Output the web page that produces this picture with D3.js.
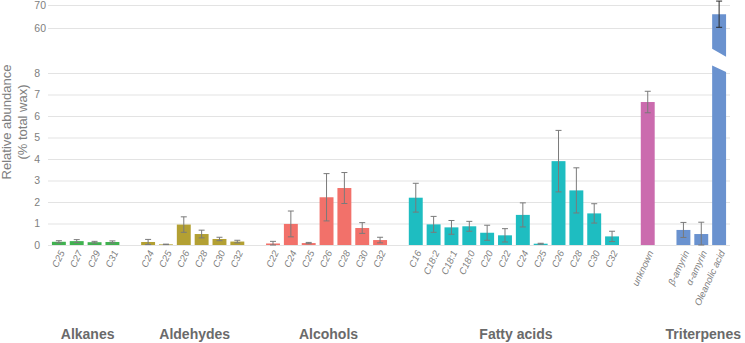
<!DOCTYPE html>
<html>
<head>
<meta charset="utf-8">
<script src="https://cdn.jsdelivr.net/npm/d3@7"></script>
<style>
  body { margin: 0; background: #fff; }
  svg { display: block; font-family: "Liberation Sans", Arial, sans-serif; }
</style>
</head>
<body>
<svg id="chart" width="745" height="343"></svg>
<script>
// values (mean, error)
var alkaneNames = ["C25", "C27", "C29", "C31"],
    alkaneMeans = [0.15, 0.18, 0.13, 0.14],
    alkaneErrs = [0.05, 0.07, 0.04, 0.05];

var aldehydeNames = ["C24", "C25", "C26", "C28", "C30", "C32"],
    aldehydeMeans = [0.14, 0.03, 0.95, 0.51, 0.28, 0.16],
    aldehydeErrs = [0.12, 0.01, 0.36, 0.18, 0.08, 0.06];

var alcoholNames = ["C22", "C24", "C25", "C26", "C28", "C30", "C32"],
    alcoholMeans = [0.07, 0.98, 0.09, 2.22, 2.65, 0.79, 0.23],
    alcoholErrs = [0.1, 0.6, 0.03, 1.1, 0.72, 0.25, 0.13];

var fattyNames = ["C16", "C18:2", "C18:1", "C18:0", "C20", "C22", "C24", "C25", "C26", "C28", "C30", "C32"],
    fattyMeans = [2.2, 0.96, 0.82, 0.87, 0.57, 0.45, 1.4, 0.06, 3.9, 2.54, 1.47, 0.4],
    fattyErrs = [0.67, 0.37, 0.32, 0.23, 0.35, 0.31, 0.56, 0.02, 1.43, 1.05, 0.45, 0.24];

var unknownNames = ["unknown"],
    unknownMeans = [6.65],
    unknownErrs = [0.5];

var terpNames = ["β-amyrin", "α-amyrin", "Oleanolic acid"],
    terpMeans = [0.7, 0.51, 66],
    terpErrs = [0.35, 0.55, 5.7];

var lowTicks = [0, 1, 2, 3, 4, 5, 6, 7, 8],
    highTicks = [60, 70];

// where the broken bar is cut (left edge, right edge)
var breakLow = [8.35, 8.05],
    breakHigh = [51, 47.5];

var GRID_COLOR = "#e3e3e3",
    TEXT_COLOR = "#808080",
    ERR_COLOR = "#7a7a7a";

var groups = [
    {label: "Alkanes", color: "#3fb24f", names: alkaneNames, means: alkaneMeans, errs: alkaneErrs},
    {label: "Aldehydes", color: "#b3a033", names: aldehydeNames, means: aldehydeMeans, errs: aldehydeErrs},
    {label: "Alcohols", color: "#f2716a", names: alcoholNames, means: alcoholMeans, errs: alcoholErrs},
    {label: "Fatty acids", color: "#1ebdc1", names: fattyNames, means: fattyMeans, errs: fattyErrs},
    {label: "", color: "#cb6bae", names: unknownNames, means: unknownMeans, errs: unknownErrs},
    {label: "Triterpenes", color: "#6a92cf", names: terpNames, means: terpMeans, errs: terpErrs}
];

// flatten into slots, with one empty slot between groups
var slots = [], bars = [];
groups.forEach(function (g, gi) {
    if (gi > 0) slots.push("gap" + gi);
    g.names.forEach(function (n, i) {
        var key = gi + "_" + n;
        slots.push(key);
        bars.push({key: key, name: n, mean: g.means[i], err: g.errs[i], color: g.color, group: gi});
    });
});

var svg = d3.select("#chart");

var x = d3.scaleBand().domain(slots).range([48, 730]).padding(0.22);
var yLow = d3.scaleLinear().domain([0, 8]).range([245, 73]);
var yHigh = d3.scaleLinear().domain([60, 70]).range([28, 5]);

// gridlines + tick labels
var gridW = 730 - 48;
svg.append("g")
    .attr("transform", "translate(48,0)")
    .call(d3.axisLeft(yLow).tickValues(lowTicks).tickSize(-gridW).tickPadding(8))
    .call(function (g) {
        g.select(".domain").remove();
        g.selectAll("line").attr("stroke", GRID_COLOR);
        g.selectAll("text").attr("fill", TEXT_COLOR).style("font-size", "10.5px");
    });

svg.append("g")
    .attr("transform", "translate(48,0)")
    .call(d3.axisLeft(yHigh).tickValues(highTicks).tickSize(-gridW).tickPadding(2))
    .call(function (g) {
        g.select(".domain").remove();
        g.selectAll("line").attr("stroke", GRID_COLOR);
        g.selectAll("text").attr("fill", TEXT_COLOR).style("font-size", "10.5px");
    });

var normal = bars.filter(function (d) { return d.mean <= 8; }),
    broken = bars.filter(function (d) { return d.mean > 8; });

svg.append("g").selectAll("rect")
    .data(normal)
    .join("rect")
    .attr("x", function (d) { return x(d.key); })
    .attr("width", x.bandwidth())
    .attr("y", function (d) { return yLow(d.mean); })
    .attr("height", function (d) { return yLow(0) - yLow(d.mean); })
    .attr("fill", function (d) { return d.color; });

// broken bar drawn in two pieces
broken.forEach(function (d) {
    var x0 = x(d.key), x1 = x0 + x.bandwidth();
    svg.append("polygon")
        .attr("points", [[x0, yLow(0)], [x0, yLow(breakLow[0])], [x1, yLow(breakLow[1])], [x1, yLow(0)]].join(" "))
        .attr("fill", d.color);
    svg.append("polygon")
        .attr("points", [[x0, yHigh(d.mean)], [x0, yHigh(breakHigh[0])], [x1, yHigh(breakHigh[1])], [x1, yHigh(d.mean)]].join(" "))
        .attr("fill", d.color);
});

// error bars
function errBar(d, y, col) {
    var cx = x(d.key) + x.bandwidth() / 2,
        lo = y(Math.max(0, d.mean - d.err)),
        hi = y(d.mean + d.err),
        g = svg.append("g").attr("stroke", col).attr("stroke-width", 1);
    g.append("line").attr("x1", cx).attr("x2", cx).attr("y1", lo).attr("y2", hi);
    g.append("line").attr("x1", cx - 3).attr("x2", cx + 3).attr("y1", lo).attr("y2", lo);
    g.append("line").attr("x1", cx - 3).attr("x2", cx + 3).attr("y1", hi).attr("y2", hi);
}
normal.forEach(function (d) { errBar(d, yLow, ERR_COLOR); });
broken.forEach(function (d) { errBar(d, yHigh, "#2a2a2a"); });

// category labels
svg.append("g").selectAll("text")
    .data(bars)
    .join("text")
    .attr("transform", function (d) {
        return "translate(" + (x(d.key) + x.bandwidth() / 2 + 3) + ",251) rotate(-65)";
    })
    .attr("text-anchor", "end")
    .attr("dy", "0.35em")
    .attr("fill", TEXT_COLOR)
    .style("font-size", "9.5px")
    .style("font-style", "italic")
    .text(function (d) { return d.name; });

// group labels
svg.append("g").selectAll("text")
    .data(groups.filter(function (g) { return g.label; }))
    .join("text")
    .attr("x", function (g) {
        var gi = groups.indexOf(g),
            first = x(gi + "_" + g.names[0]),
            last = x(gi + "_" + g.names[g.names.length - 1]) + x.bandwidth();
        return (first + last) / 2 + 2;
    })
    .attr("y", 339)
    .attr("text-anchor", "middle")
    .attr("fill", "#6a6a6a")
    .style("font-family", "'Liberation Sans Narrow', 'Liberation Sans', sans-serif")
    .style("font-weight", "bold")
    .style("font-size", "14px")
    .text(function (g) { return g.label; });

// y axis title
var title = svg.append("text")
    .attr("transform", "translate(6,122) rotate(-90)")
    .attr("text-anchor", "middle")
    .attr("fill", TEXT_COLOR)
    .style("font-size", "13px");
title.append("tspan").attr("x", 0).attr("dy", "0.35em").text("Relative abundance");
title.append("tspan").attr("x", 0).attr("dy", "16px").text("(% total wax)");
</script>
</body>
</html>
